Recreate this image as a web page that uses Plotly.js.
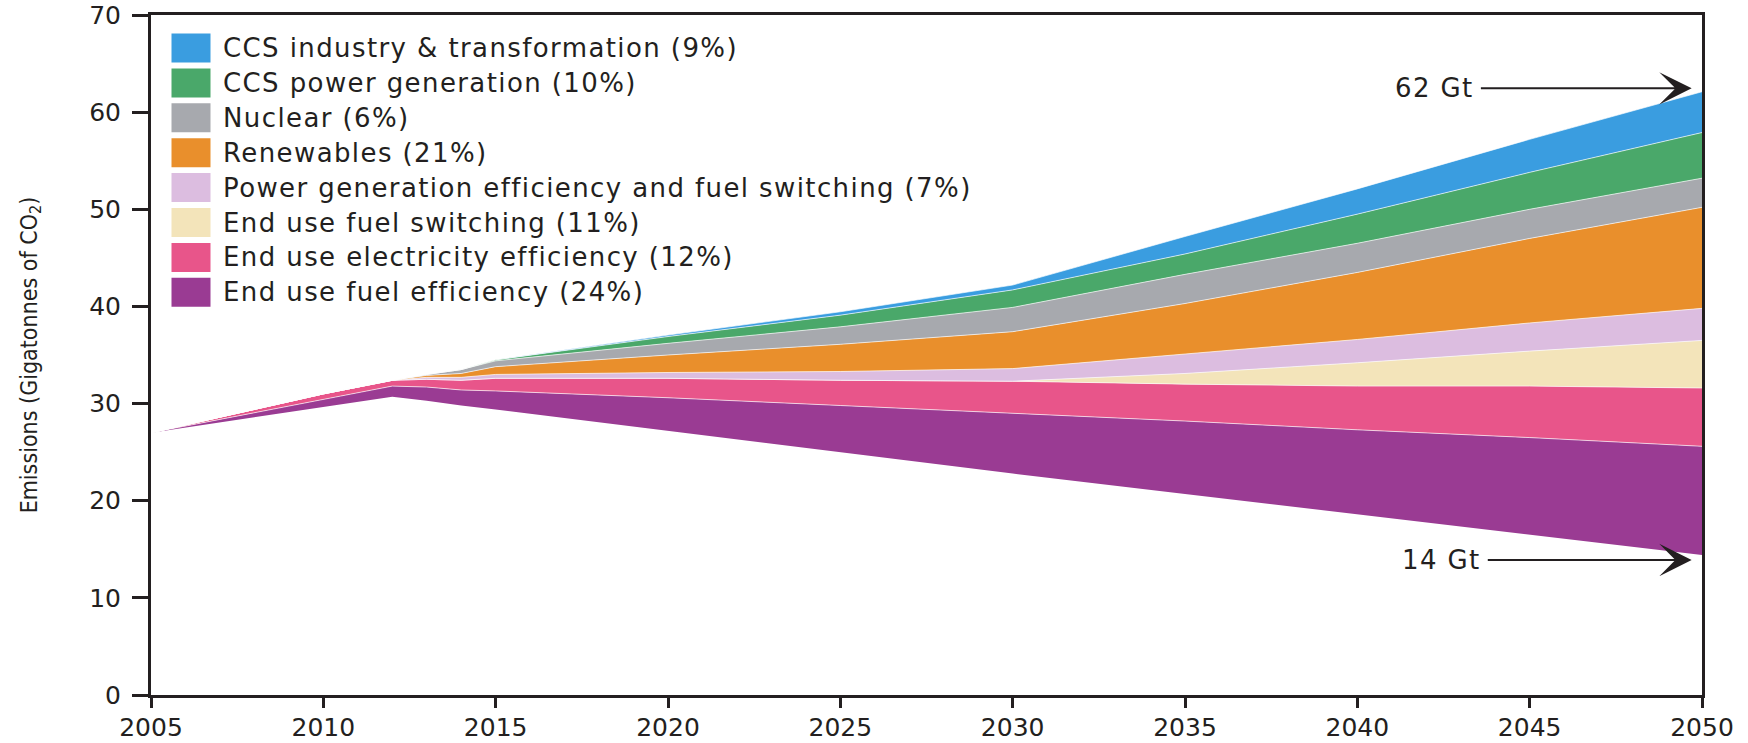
<!DOCTYPE html>
<html>
<head>
<meta charset="utf-8">
<script src="https://cdn.plot.ly/plotly-3.0.1.min.js"></script>
<style>
  html, body { margin: 0; padding: 0; background: #ffffff; }
  #chart { width: 1748px; height: 743px; }
  /* the reference uses a wide humanist face: widen DejaVu a little */
  .annotation-text { letter-spacing: 1.4px; }
</style>
</head>
<body>
<div id="chart"></div>
<script>
// ---- Data (Gt CO2) ----
const years = [2005, 2010, 2012, 2013, 2014, 2015, 2020, 2025, 2030, 2035, 2040, 2045, 2050];

// Remaining emissions (white area under the wedges)
const remaining   = [27.0, 29.6, 30.7, 30.3, 29.8, 29.4, 27.2, 25.0, 22.8, 20.7, 18.6, 16.5, 14.4];
// Wedges, stacked from bottom to top
const fuelEff     = [0, 0.8, 1.1, 1.4, 1.6, 1.9, 3.4, 4.8, 6.2, 7.5, 8.7, 10.0, 11.2];
const elecEff     = [0, 0.6, 0.6, 0.8, 1.0, 1.3, 2.0, 2.6, 3.3, 3.8, 4.5, 5.3, 6.0];
const fuelSwitch  = [0, 0, 0, 0, 0, 0, 0, 0, 0, 1.1, 2.4, 3.6, 4.9];
const powerEff    = [0, 0, 0, 0.2, 0.3, 0.4, 0.6, 0.9, 1.3, 2.0, 2.4, 2.9, 3.3];
const renewables  = [0, 0, 0, 0.2, 0.4, 0.8, 1.8, 2.8, 3.8, 5.2, 6.9, 8.7, 10.4];
const nuclear     = [0, 0, 0, 0.1, 0.4, 0.6, 1.2, 1.8, 2.5, 3.0, 3.0, 3.0, 3.0];
const ccsPower    = [0, 0, 0, 0, 0, 0.1, 0.7, 1.2, 1.8, 2.1, 3.0, 3.8, 4.7];
const ccsIndustry = [0, 0, 0, 0, 0, 0, 0.15, 0.35, 0.5, 1.8, 2.6, 3.4, 4.2];

// Legend labels (top to bottom as in the reference)
const legendLabels = [
  "CCS industry & transformation (9%)",
  "CCS power generation (10%)",
  "Nuclear (6%)",
  "Renewables (21%)",
  "Power generation efficiency and fuel switching (7%)",
  "End use fuel switching (11%)",
  "End use electricity efficiency (12%)",
  "End use fuel efficiency (24%)"
];
const legendColors = ["#3a9de0", "#4aa86a", "#a7a9ae", "#e98f2c", "#dcbde0", "#f3e4ba", "#e8558a", "#9a3b93"];

const xTicks = [2005, 2010, 2015, 2020, 2025, 2030, 2035, 2040, 2045, 2050];
const yTicks = [0, 10, 20, 30, 40, 50, 60, 70];

const endLabels = ["62 Gt", "14 Gt"];

// ---- Build traces ----
const wedgeSeries = [fuelEff, elecEff, fuelSwitch, powerEff, renewables, nuclear, ccsPower, ccsIndustry];
const wedgeColors = legendColors.slice().reverse();
const wedgeNames = legendLabels.slice().reverse();

const traces = [];
traces.push({
  type: "scatter", mode: "lines", x: years, y: remaining, stackgroup: "s",
  name: "Remaining emissions", line: {width: 0, color: "rgba(0,0,0,0)"},
  fillcolor: "rgba(0,0,0,0)", hoverinfo: "skip", showlegend: false
});
wedgeSeries.forEach((s, i) => {
  traces.push({
    type: "scatter", mode: "lines", x: years, y: s, stackgroup: "s",
    name: wedgeNames[i],
    line: {width: 1, color: "rgba(255,255,255,0.65)"},
    fillcolor: wedgeColors[i], hoverinfo: "skip", showlegend: false
  });
});

// ---- Layout geometry (pixels) ----
const W = 1748, H = 743;
const M = {l: 151, r: 46, t: 15, b: 48};
const plotW = W - M.l - M.r, plotH = H - M.t - M.b;
const px2paperX = px => (px - M.l) / plotW;
const py2paperY = py => (H - M.b - py) / plotH;

const ink = "#231f20";
const textFont = {family: "DejaVu Sans, sans-serif", size: 26, color: ink};
const tickFont = {family: "DejaVu Sans, sans-serif", size: 25, color: ink};
const shapes = [];
const annotations = [];

// Custom legend: big swatches + text
const legTop = 48, legStep = 34.9, swH = 29, swX0 = 171.5, swX1 = 210.5, txtX = 221;
legendLabels.forEach((lab, i) => {
  const cy = legTop + i * legStep;
  shapes.push({
    type: "rect", xref: "paper", yref: "paper",
    x0: px2paperX(swX0), x1: px2paperX(swX1),
    y0: py2paperY(cy + swH / 2), y1: py2paperY(cy - swH / 2),
    fillcolor: legendColors[i], line: {width: 0}, layer: "above"
  });
  annotations.push({
    xref: "paper", yref: "paper", x: px2paperX(txtX), y: py2paperY(cy),
    xanchor: "left", yanchor: "middle", showarrow: false, text: lab,
    font: textFont
  });
});

// End arrows (label centred at the arrow tail, arrow pointing at 2050)
const arrowSpecs = [
  {label: endLabels[0], y: 62.45, tipX: 2049.7, textX: 2042.25},
  {label: endLabels[1], y: 13.9,  tipX: 2049.7, textX: 2042.45}
];
arrowSpecs.forEach(a => {
  annotations.push({
    x: a.tipX, y: a.y, xref: "x", yref: "y",
    ax: a.textX, ay: a.y, axref: "x", ayref: "y",
    text: a.label, font: textFont, borderpad: 6,
    showarrow: true, arrowhead: 3, arrowsize: 2.7, arrowwidth: 2,
    arrowcolor: ink, standoff: 0
  });
});

const layout = {
  width: W, height: H,
  margin: {l: M.l, r: M.r, t: M.t, b: M.b, pad: 0},
  paper_bgcolor: "#ffffff", plot_bgcolor: "#ffffff",
  font: {family: "DejaVu Sans, sans-serif", color: ink},
  showlegend: false,
  xaxis: {
    range: [2005, 2050], tickmode: "array", tickvals: xTicks,
    ticks: "outside", ticklen: 10, tickwidth: 3, tickcolor: ink,
    ticklabelstandoff: -2,
    showline: true, linecolor: ink, linewidth: 3, mirror: true,
    showgrid: false, zeroline: false,
    tickfont: tickFont,
    fixedrange: true
  },
  yaxis: {
    range: [0, 70], tickmode: "array", tickvals: yTicks,
    ticks: "outside", ticklen: 16, tickwidth: 3, tickcolor: ink,
    ticklabelstandoff: 6,
    showline: true, linecolor: ink, linewidth: 3, mirror: true,
    showgrid: false, zeroline: false,
    tickfont: tickFont,
    title: {
      text: "Emissions (Gigatonnes of CO<sub>2</sub>)",
      font: {family: "'Liberation Sans Narrow', 'DejaVu Sans Condensed', sans-serif", size: 23, color: ink},
      standoff: 46
    },
    fixedrange: true
  },
  shapes: shapes,
  annotations: annotations
};

Plotly.newPlot("chart", traces, layout, {displayModeBar: false, staticPlot: true});
</script>
</body>
</html>
